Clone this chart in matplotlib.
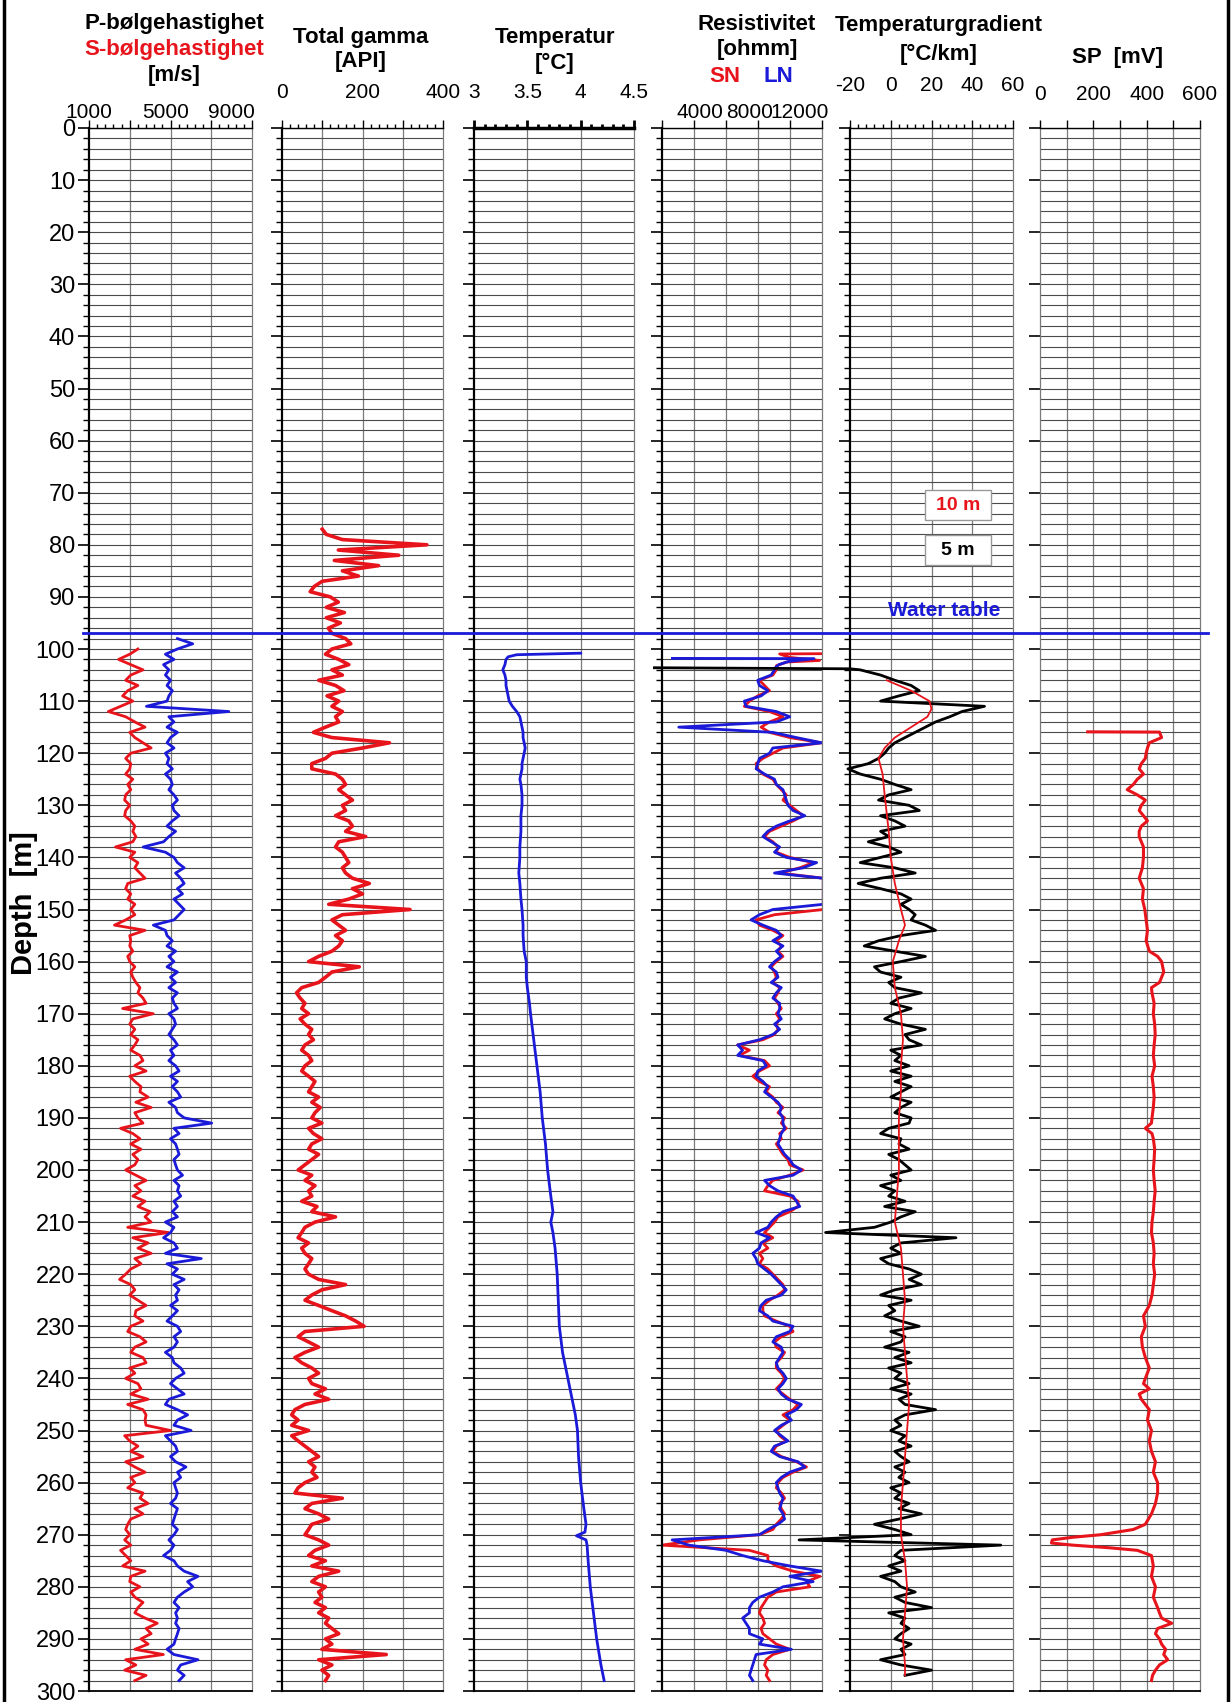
import numpy as np
import matplotlib.pyplot as plt
from matplotlib.lines import Line2D
from matplotlib.patches import Rectangle
from matplotlib.transforms import blended_transform_factory

plt.rcParams['font.family'] = ['Liberation Sans', 'DejaVu Sans']

RED = '#e8141c'
BLUE = '#1a1ad8'

# ---------------- data ----------------
# P- and S-wave velocity [m/s], 1 m samples
vp_depth = np.arange(98, 299)
vp = [5340, 6090, 5340, 4750, 5170, 4660, 4920, 4750, 5000, 4830,
      5090, 4920, 4830, 3820, 7860, 4920, 5170, 4830, 5340, 5000,
      4830, 5170, 4750, 4920, 4830, 5090, 4750, 5000, 5090, 4920,
      5170, 5340, 5090, 5170, 5420, 5090, 4830, 5250, 4920, 4660,
      3660, 4750, 5170, 5340, 5670, 5250, 5500, 5670, 5340, 5590,
      5170, 5420, 5670, 5420, 5170, 4160, 4750, 4830, 5090, 4830,
      5250, 4920, 5170, 4830, 5340, 5000, 5250, 4920, 5340, 5090,
      5170, 5340, 4920, 5170, 5250, 5090, 4920, 5170, 5340, 5000,
      5170, 4920, 5250, 5420, 5000, 5340, 5090, 5340, 5500, 4920,
      5250, 5340, 5670, 7020, 5170, 5420, 5000, 5250, 5340, 5420,
      5170,
      5250, 5340, 5590, 5170, 5420, 5340, 5500, 5170, 5340, 5090,
      5340, 4750, 5170, 5000, 4660, 5170, 5340, 4750, 6510, 4830,
      5340, 5090, 5670, 5170, 5420, 5250, 5340, 5000, 5340, 5090,
      4830, 5340, 5500, 5170, 5340, 5170, 4750, 5090, 5170, 5500,
      5670, 5250, 5000, 5340, 5670, 4920, 4750, 5340, 5840, 5340,
      5170, 6010, 4750, 5000, 5250, 5340, 5000, 5250, 5760, 5340,
      5500, 5170, 5250, 5340, 5250, 5000, 5340, 5250, 5170, 5090,
      5340, 5170, 4920, 5170, 5000, 4660, 5170, 5340, 5670, 6350,
      5840, 6090, 5670, 5340, 5170, 5420, 5250, 5340, 5250, 5420,
      5340, 5250, 5170, 4830, 5170, 6350, 5500, 5340, 5670, 5420]

vs_depth = np.arange(100, 299)
vs = [3400, 3000, 2450, 3050, 3650, 3050, 2800, 3400, 2900, 2650,
      3150, 2550, 1950, 2800, 3250, 3750, 3000, 3250, 3650, 4050,
      3050, 2800, 3050, 3000, 2800, 3150, 2900, 3050, 2800, 2750,
      3000, 2800, 2750, 3050, 3250, 3150, 3300, 3150, 2300, 3250,
      3000, 3400, 3250, 3500, 3750, 2900, 2800, 3050, 2900, 3250,
      3050, 3250, 2800, 2250, 3750, 3000, 3050, 3000, 3150, 2900,
      3000, 3250, 3050, 3150, 3300, 3500, 3400, 3650, 3800, 2650,
      4150, 3150, 3000, 3250, 3050, 3400, 3250, 3050, 3500, 3650,
      3250, 3800, 3000, 3250, 3550, 3500, 3900, 3300, 4050, 3250,
      3400, 3650, 2550, 3150, 3500, 3050, 3550, 3150, 3400,
      3250, 2800, 3300, 3800, 3250, 3550, 3150, 3750, 3400, 4000,
      3750, 4050, 2900, 4900, 3150, 3900, 3400, 4050, 3250, 3550,
      3050, 2800, 2500, 3050, 3250, 3000, 3400, 3800, 3300, 3250,
      3650, 3050, 2900, 3500, 3800, 3250, 3050, 3650, 3800, 3000,
      3250, 2800, 3400, 3550, 3050, 3900, 2900, 3650, 3800, 3750,
      3800, 5000, 2750, 3000, 3400, 3050, 3650, 2800, 3250, 3750,
      3050, 3250, 2900, 3650, 3500, 3900, 3250, 3650, 3050, 2900,
      2800, 3000, 2750, 3050, 2550, 2800, 3050, 2650, 3750, 3050,
      3000, 3500, 3050, 3250, 3650, 3400, 3250, 3750, 4350, 3800,
      4050, 3550, 3900, 3250, 4650, 2800, 3300, 2750, 3800, 3250]

# Total gamma [API]
gamma_depth = np.arange(77, 299)
gamma = [100, 110, 150, 360, 140, 290, 130, 240, 150, 190,
         100, 80, 70, 120, 140, 110, 155, 110, 145, 115,
         124, 158, 171, 124, 108, 141, 166, 124, 150, 91,
         133, 154, 112, 141, 124, 150, 133, 141, 108, 78,
         124, 267, 200, 124, 108, 74, 74, 133, 150, 158,
         141, 158, 175, 150, 158, 133, 166, 175, 158, 208,
         141, 133, 150, 158, 166, 150, 158, 175, 217, 175,
         200, 166, 116, 318, 150, 124, 141, 158, 133, 150,
         141, 124, 91, 66, 192, 124, 108, 91, 49, 36,
         45, 57, 49, 66, 45, 57, 74, 66, 78, 57,
         49, 66, 74, 57, 49, 66, 82, 74, 66, 91,
         74, 95, 82, 74, 99, 66, 78, 99, 74, 66,
         91, 74,
         57, 40, 74, 57, 82, 66, 74, 49, 87, 74,
         133, 82, 57, 49, 40, 66, 49, 57, 74, 66,
         57, 66, 91, 158, 99, 74, 57, 91, 124, 158,
         183, 204, 57, 40, 66, 91, 57, 32, 49, 74,
         91, 66, 74, 108, 82, 116, 57, 32, 24, 40,
         24, 66, 24, 40, 57, 74, 91, 66, 82, 74,
         87, 57, 40, 32, 150, 74, 57, 91, 116, 74,
         66, 57, 91, 116, 82, 66, 108, 74, 141, 91,
         74, 108, 91, 99, 82, 108, 91, 116, 108, 124,
         141, 108, 124, 99, 259, 91, 124, 99, 116, 108]

# Temperature [C]
temp_depth = [100.8, 101.1, 101.5, 102, 103, 104, 105, 106, 107, 108,
              109, 110, 111, 112, 113, 114, 115, 116, 117, 118,
              119, 120, 121, 122, 123, 124, 125, 126, 128, 130,
              132, 135, 138, 140, 143, 145, 148, 150, 153, 155,
              158, 160, 163, 165, 168, 170, 175, 180, 185, 190,
              195, 200, 205, 208, 210, 212, 215, 220, 225, 230,
              235, 240, 245, 247, 250, 255, 260, 265, 268, 269.5,
              270.2, 271, 272, 275, 280, 285, 290, 295, 298]
temp = [4.00, 3.40, 3.32, 3.30, 3.29, 3.27, 3.29, 3.30, 3.30, 3.31,
        3.32, 3.33, 3.36, 3.40, 3.43, 3.44, 3.45, 3.46, 3.46, 3.47,
        3.48, 3.47, 3.46, 3.45, 3.45, 3.44, 3.43, 3.44, 3.45, 3.45,
        3.44, 3.44, 3.43, 3.43, 3.42, 3.43, 3.44, 3.45, 3.46, 3.46,
        3.47, 3.49, 3.49, 3.50, 3.52, 3.53, 3.56, 3.59, 3.62, 3.64,
        3.67, 3.69, 3.72, 3.74, 3.72, 3.74, 3.76, 3.78, 3.79, 3.80,
        3.83, 3.88, 3.93, 3.95, 3.97, 3.98, 4.00, 4.03, 4.05, 4.04,
        3.96, 4.05, 4.06, 4.07, 4.09, 4.12, 4.15, 4.19, 4.22]

# Resistivity [ohmm], short normal (SN) and long normal (LN)
sn_depth = np.concatenate([[100.9, 100.95, 101.6, 102.2, 102.5, 103.2], np.arange(104, 299)])
sn = [12440, 9190, 9940, 12310, 9750, 8940,
      8930, 8660, 7610, 8010, 8400, 7480, 6830, 6430, 8400, 9450,
      8400, 7740, 8400, 9980, 12470, 9450, 8660, 7880, 7350, 7480,
      7880, 8660, 8930, 9320, 9710, 9450, 9980, 10500, 11030, 10240,
      9320, 8400, 8010, 8660, 9060, 8930, 9980, 11810, 10760, 9190,
      12600, 12600, 12600, 12600, 12600, 12600, 12600, 8790, 7350, 7610,
      8660, 9450, 8930, 9320, 9060, 9450, 8930, 8530, 8790, 8930,
      8660, 9190, 9060, 8790, 9060, 9320, 8930, 9190, 8930, 9060,
      8790, 7880, 5910, 6830, 6040, 8010, 8400, 7610, 7090, 7610,
      8400, 8140, 8660, 8930, 9450, 9060, 9580, 9320, 9710, 9190,
      9320, 8930, 9190, 9450, 9840,
      9980, 11030, 9980, 8660, 8270, 8010, 9980, 10630, 10630, 9980,
      9060, 8790, 8400, 8010, 8660, 7880, 8270, 7610, 7880, 7610,
      8270, 8660, 9060, 9450, 9580, 9060, 8400, 7880, 7880, 8010,
      8930, 9980, 10240, 9320, 8790, 8930, 9580, 9320, 8930, 8930,
      9320, 9580, 9320, 8930, 9450, 9980, 10630, 10240, 9450, 9980,
      9450, 8930, 9190, 9710, 8930, 8660, 9320, 10500, 11290, 10240,
      9450, 9060, 8930, 9320, 9580, 9190, 9320, 9580, 9320, 8930,
      8660, 7610, 2890, 0, 6830, 8270, 8270, 8930, 10240, 12340,
      11290, 11550, 8930, 8270, 8010, 7740, 7610, 7880, 8010, 7740,
      7880, 8400, 8930, 9980, 8660, 8140, 8010, 8270, 8140, 8400]

ln_depth = np.concatenate([[101.8, 101.85, 102.4, 103.0, 103.5], np.arange(104, 299)])
ln = [810, 11880, 9880, 9130, 8880,
      8790, 8530, 7480, 7610, 8270, 7740, 6430, 6560, 8930, 9980,
      8930, 1310, 8660, 10500, 12470, 8660, 8400, 7610, 7480, 7350,
      8010, 8790, 8930, 9450, 9580, 9710, 9840, 10240, 11160, 9980,
      8930, 8270, 7880, 8530, 9190, 8790, 9710, 12080, 11030, 8790,
      12600, 12600, 12600, 12600, 12600, 12600, 8660, 7610, 6960, 7880,
      8930, 9320, 8660, 9450, 8930, 9320, 8790, 8400, 8930, 9060,
      8530, 9320, 8930, 8660, 9190, 9190, 9060, 9320, 8790, 9190,
      8660, 7610, 5910, 6300, 5910, 7880, 8140, 7480, 7350, 7880,
      8270, 8010, 8530, 9060, 9320, 9190, 9450, 9450, 9580, 9320,
      9190, 9060, 9320, 9580, 9980,
      10240, 10890, 10240, 8010, 8400, 9060, 10240, 10500, 10760, 9450,
      8930, 8530, 8270, 7350, 8400, 7740, 7610, 7090, 7350, 7480,
      8010, 8530, 8930, 9320, 9710, 9320, 8140, 7740, 7610, 8270,
      8660, 10240, 9980, 8930, 8660, 9320, 9450, 9190, 8930, 9060,
      9450, 9710, 9450, 9060, 9320, 9840, 10890, 10500, 9710, 10110,
      9320, 8790, 9320, 9840, 8790, 8530, 9190, 10630, 11160, 9980,
      9320, 8930, 9060, 9190, 9450, 9320, 9190, 9450, 9580, 9060,
      8270, 7610, 790, 2100, 4990, 6300, 7880, 9980, 12470, 9980,
      11810, 9450, 8660, 7610, 7090, 6830, 6830, 6300, 6560, 6830,
      6830, 7880, 7610, 10110, 7350, 7220, 7090, 6960, 6830, 7090]

# Temperature gradient [C/km], 5 m and 10 m windows
grad5_depth = np.concatenate([[103.6, 103.8], np.arange(104, 298)])
grad5 = [-116, -20,
         -15, -5, 2, 10, 14, 4, -5, 46, 35, 29,
         22, 17, 12, 7, 2, -1, -3, -6, -11, -21,
         -15, -5, 2, 10, -1, -6, 9, 14, -5, 2,
         7, -5, -1, -11, -1, 5, -5, -15, 2, 12,
         -5, -16, -5, 5, 10, 5, 9, 12, 10, 17,
         22, 5, -6, -13, 2, 17, 5, -8, -5, 5,
         -1, 2, 15, 4, 0, 10, 2, -3, 5, 17,
         7, 9, 15, 0, 5, 2, 9, 0, 10, 2,
         10, 5, 0, 10, 5, 2, 10, 9, -1, -5,
         5, 4, 9, -1, 4,
         7, 10, 0, 5, -5, 2, -1, 7, -3, 12,
         5, 0, -8, -32, 32, 5, 0, 5, -5, -1,
         9, 15, 9, 15, 2, -5, 10, -1, 2, -3,
         5, 14, 0, 7, 5, -3, 9, 2, 10, -1,
         5, 2, 9, 0, 10, 4, 7, 22, 7, 2,
         5, 0, 7, 4, 10, 2, 5, 9, 2, 7,
         4, 9, 0, 5, 2, 9, 4, 15, 4, -8,
         2, 10, -45, 54, 5, 2, 7, -1, 5, -5,
         2, 5, 12, 2, 7, 20, -1, 7, 5, 9,
         5, 2, 10, 5, 7, -5, 5, 20, 7]

grad10_depth = [106, 108, 110, 111.5, 113, 115, 117, 119, 121, 124,
                128, 135, 140, 145, 150, 153, 156, 160, 165, 170,
                175, 180, 185, 190, 195, 200, 205, 210, 215, 220,
                225, 230, 235, 240, 245, 250, 255, 260, 265, 270,
                275, 280, 285, 290, 295, 297]
grad10 = [-2, 10, 19, 20, 18, 10, 2, -3, -6, -4,
          -3, -1, 0, 2, 5, 7, 4, 1, 2, 5,
          6, 5, 5, 4, 4, 4, 3, 2, 5, 6,
          7, 6, 7, 8, 9, 8, 7, 6, 5, 5,
          7, 8, 7, 6, 7, 7]

# Self potential [mV]
sp_depth = [115.9, 115.95, 117, 118, 119, 120, 121, 122, 123, 124,
            125, 126, 127, 128, 129, 130, 131, 132, 133, 134,
            135, 136, 137, 138, 140, 142, 144, 146, 148, 150,
            152, 154, 156, 158, 159, 160, 162, 164, 165, 166,
            168, 170, 172, 174, 176, 178, 180, 182, 184, 186,
            188, 190, 191, 192, 193, 194, 196, 198, 200, 202,
            204, 206, 208, 210, 212, 214, 216, 218, 220, 222,
            224, 226, 228, 230, 232, 234, 236, 238, 240, 241,
            242, 243, 244, 246, 248, 250, 252, 254, 256, 258,
            260, 262, 264, 266, 268, 269, 270, 270.5, 271, 271.6,
            272, 272.5, 273, 274, 276, 278, 280, 282, 284, 285,
            286, 287, 288, 289, 290, 291, 292, 293, 294, 295,
            296, 297, 298]
sp = [179, 448, 456, 410, 403, 398, 395, 380, 372, 388,
      365, 350, 327, 365, 395, 380, 372, 388, 403, 380,
      372, 372, 380, 388, 388, 384, 372, 388, 384, 393,
      398, 403, 398, 410, 441, 456, 464, 448, 418, 420,
      428, 425, 430, 432, 428, 425, 430, 420, 425, 428,
      425, 420, 418, 395, 420, 425, 430, 428, 425, 428,
      432, 428, 425, 420, 418, 425, 428, 425, 430, 425,
      420, 410, 388, 395, 380, 384, 395, 410, 395, 388,
      410, 372, 380, 410, 403, 418, 410, 418, 433, 425,
      441, 441, 433, 418, 395, 350, 228, 122, 46, 43,
      122, 258, 365, 418, 425, 418, 433, 425, 441, 448,
      456, 494, 441, 433, 448, 456, 471, 464, 479, 448,
      433, 422, 418]

# ---------------- figure ----------------
W, H = 1231.0, 1702.0
Y_TOP, Y_BOT = 128, 1691
fig = plt.figure(figsize=(W / 100, H / 100), dpi=100)


def fx(x):
    return x / W


def fy(y):
    return 1 - y / H


def make_track(x0, x1, xlim, major, labels, minor=None, pad=1, grid_x=(),
               left_minor=True, left_col='black', left_lw=1.6, top_lw=1.0, tick_w=1.0):
    ax = fig.add_axes([fx(x0), fy(Y_BOT), (x1 - x0) / W, (Y_BOT - Y_TOP) / H])
    ax.set_xlim(*xlim)
    ax.set_ylim(300, 0)
    ax.xaxis.tick_top()
    ax.set_xticks(major)
    ax.set_xticklabels(labels, fontsize=15)
    if minor is not None:
        ax.set_xticks(minor, minor=True)
    ax.tick_params(axis='x', which='major', direction='out', length=6, width=tick_w, pad=pad)
    ax.tick_params(axis='x', which='minor', direction='out', length=3, width=tick_w)
    ax.set_yticks(np.arange(0, 301, 10))
    ax.set_yticks(np.arange(0, 301, 2), minor=True)
    ax.tick_params(axis='y', which='major', direction='out', length=8, width=1.2, labelleft=False)
    ax.tick_params(axis='y', which='minor', direction='out',
                   length=4 if left_minor else 0, width=1.0)
    ax.grid(axis='y', which='both', color='#4a4a4a', lw=0.8)
    for g in grid_x:
        ax.axvline(g, color='#7a7a7a', lw=0.9, zorder=0.5)
    ax.spines['left'].set_color(left_col)
    ax.spines['left'].set_linewidth(left_lw)
    ax.spines['right'].set_color('#7a7a7a')
    ax.spines['right'].set_linewidth(0.9)
    ax.spines['top'].set_linewidth(top_lw)
    ax.spines['bottom'].set_linewidth(1.3)
    ax.set_axisbelow(True)
    return ax


ax1 = make_track(89, 252, (1000, 9000), [1000, 3000, 5000, 7000, 9000],
                 [''] * 5, np.arange(1000, 9001, 400), grid_x=[3000, 5000, 7000])
ax1.tick_params(axis='y', labelleft=True, labelsize=17, pad=2)

ax2 = make_track(282, 443, (0, 400), [0, 100, 200, 300, 400],
                 ['0', '', '200', '', '400'], np.arange(0, 401, 20),
                 pad=13, grid_x=[100, 200, 300])

ax3 = make_track(474, 634, (3, 4.5), [3, 3.5, 4, 4.5], ['3', '3.5', '4', '4.5'],
                 np.arange(3, 4.51, 0.1), pad=13, grid_x=[3.5, 4.0],
                 top_lw=2.5, tick_w=2.0)

ax4 = make_track(662, 822, (0, 12500), np.arange(0, 12501, 2500),
                 [''] * 6, None, grid_x=[2500, 5000, 7500, 10000])

ax5 = make_track(850, 1013, (-20, 60), [-20, 0, 20, 40, 60],
                 ['-20', '0', '20', '40', '60'], np.arange(-20, 61, 4),
                 pad=18, grid_x=[0, 20, 40])

ax6 = make_track(1040, 1200, (0, 600), [0, 100, 200, 300, 400, 500, 600],
                 ['0', '', '200', '', '400', '', '600'], None,
                 pad=11, grid_x=[100, 200, 300, 400, 500],
                 left_minor=False, left_col='#7a7a7a', left_lw=0.9)

# scale labels of the velocity and resistivity tracks sit just above the ticks
for x, s in [(89, '1000'), (166, '5000'), (231, '9000'),
             (700, '4000'), (750, '8000'), (800, '12000')]:
    fig.text(fx(x), fy(113), s, ha='center', va='center', fontsize=15)

# curves
ax1.plot(vs, vs_depth, color=RED, lw=2.0)
ax1.plot(vp, vp_depth, color=BLUE, lw=2.0)
ax2.plot(gamma, gamma_depth, color=RED, lw=2.6)
ax3.plot(temp, temp_depth, color=BLUE, lw=2.0)
ax4.plot(sn, sn_depth, color=RED, lw=2.0)
ax4.plot(ln, ln_depth, color=BLUE, lw=2.0)
ax5.plot(grad5, grad5_depth, color='black', lw=2.0, clip_on=False)
ax5.plot(grad10, grad10_depth, color=RED, lw=1.3)
ax6.plot(sp, sp_depth, color=RED, lw=2.2)

# legend boxes for the gradient windows
ax5.add_patch(Rectangle((17, 69.5), 32, 5.8, facecolor='white', edgecolor='#999999', lw=1, zorder=3))
ax5.add_patch(Rectangle((17, 78.1), 32, 5.8, facecolor='white', edgecolor='#999999', lw=1, zorder=3))
ax5.text(33, 72.4, '10 m', color=RED, fontsize=14, fontweight='bold', ha='center', va='center', zorder=4)
ax5.text(33, 81.0, '5 m', color='black', fontsize=14, fontweight='bold', ha='center', va='center', zorder=4)
ax5.text(26, 92.7, 'Water table', color=BLUE, fontsize=15, fontweight='bold', ha='center', va='center')

# water table line across all tracks
trans = blended_transform_factory(fig.transFigure, ax1.transData)
fig.add_artist(Line2D([fx(83), fx(1208)], [97, 97], transform=trans, color=BLUE, lw=2.0))


# headers
def head(x, y, s, color='black', size=16):
    fig.text(fx(x), fy(y), s, ha='center', va='center', fontsize=size, fontweight='bold', color=color)


head(174, 24, 'P-bølgehastighet')
head(174, 50, 'S-bølgehastighet', RED)
head(174, 76, '[m/s]')
head(361, 38, 'Total gamma')
head(361, 62, '[API]')
head(555, 38, 'Temperatur')
head(555, 63, '[°C]')
head(757, 24, 'Resistivitet')
head(757, 50, '[ohmm]')
head(725, 76, 'SN', RED)
head(778, 76, 'LN', BLUE)
head(939, 26, 'Temperaturgradient')
head(939, 54, '[°C/km]')
head(1118, 57, 'SP  [mV]')

fig.text(fx(24), fy(903), 'Depth  [m]', rotation=90, ha='center', va='center',
         fontsize=21, fontweight='bold')

# frame lines at the sides
fig.add_artist(Line2D([fx(4), fx(4)], [0, 1], transform=fig.transFigure, color='black', lw=2.5))
fig.add_artist(Line2D([fx(1228), fx(1228)], [0, 1], transform=fig.transFigure, color='black', lw=2.5))

fig.savefig('out.png', dpi=100)
